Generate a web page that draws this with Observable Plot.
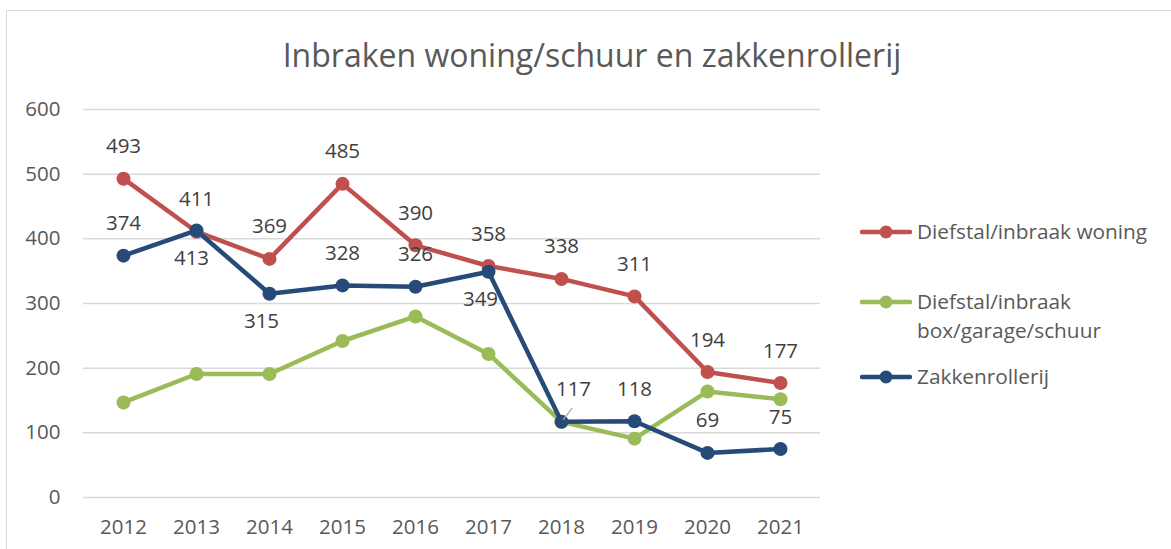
<!DOCTYPE html>
<html><head><meta charset="utf-8">
<script src="https://cdn.jsdelivr.net/npm/d3@7"></script>
<script src="https://cdn.jsdelivr.net/npm/@observablehq/plot@0.6"></script>
<style>
body{margin:0;background:#fff;font-family:"Open Sans",sans-serif;}
#wrap{position:relative;width:1171px;height:549px;overflow:hidden;background:#fff;}
#frame{position:absolute;left:6px;top:10px;width:1200px;height:600px;border:1px solid #d9d9d9;box-sizing:border-box;}
#title{position:absolute;left:0;width:1184px;top:34px;text-align:center;font-size:32px;color:#595959;line-height:42px;}
#chart{position:absolute;left:0;top:80px;}
.leg{position:absolute;left:860px;display:flex;align-items:flex-start;font-size:20.8px;color:#595959;line-height:29px;}
.leg svg{flex:none;margin-top:8px;margin-right:5px;}
</style>
</head><body>
<div id="wrap">
  <div id="frame"></div>
  <div id="title">Inbraken woning/schuur en zakkenrollerij</div>
  <div id="chart"></div>
</div>
<script>
const years = [2012, 2013, 2014, 2015, 2016, 2017, 2018, 2019, 2020, 2021];
const woning = [493, 411, 369, 485, 390, 358, 338, 311, 194, 177];
const schuur = [147, 191, 191, 242, 280, 222, 117, 91, 164, 152];
const zakken = [374, 413, 315, 328, 326, 349, 117, 118, 69, 75];
const seriesNames = ["Diefstal/inbraak woning", "Diefstal/inbraak box/garage/schuur", "Zakkenrollerij"];
const legendLabels = ["Diefstal/inbraak woning", "Diefstal/inbraak<br>box/garage/schuur", "Zakkenrollerij"];
const colors = ["#C0504D", "#9BBB59", "#264B78"];
const yTicks = [0, 100, 200, 300, 400, 500, 600];
const zakkenLabelPlace = ["above", "below", "below", "above", "above", "below", "above", "above", "above", "above"];
const zakkenLabelShift = [0, -5, -8, 0, 0, -8, 12, 0, 0, 0];

const allSeries = [woning, schuur, zakken];
const data = [];
allSeries.forEach((vals, s) => years.forEach((yr, i) => data.push({
  year: String(yr), value: vals[i], series: seriesNames[s], idx: i
})));
const bySeries = name => data.filter(d => d.series === name);

const marks = [Plot.ruleY(yTicks, {stroke: "#d9d9d9", strokeWidth: 1.5})];
seriesNames.forEach((name, s) => {
  marks.push(Plot.line(bySeries(name), {x: "year", y: "value", stroke: colors[s], strokeWidth: 4.5, strokeLinejoin: "round"}));
  marks.push(Plot.dot(bySeries(name), {x: "year", y: "value", r: 7, fill: colors[s], stroke: "none"}));
});
// small leader for the shifted 2018 label
const leaderShape = {draw(context, l) { context.moveTo(0, -3); context.lineTo(0, -l); }};
marks.push(Plot.vector(bySeries(seriesNames[2]).filter(d => zakkenLabelShift[d.idx] === 12), {x: "year", y: "value", length: 17, rotate: 38, anchor: "start", shape: leaderShape, stroke: "#a6a6a6", strokeWidth: 1.2}));
// labels for woning (above)
marks.push(Plot.text(bySeries(seriesNames[0]), {x: "year", y: "value", text: d => String(d.value), dy: -32, fontSize: 20.5, fill: "#404040"}));
// labels for zakkenrollerij
[-8, -5, 0, 12].forEach(shift => {
  ["above", "below"].forEach(place => {
    const sub = bySeries(seriesNames[2]).filter(d => zakkenLabelPlace[d.idx] === place && zakkenLabelShift[d.idx] === shift);
    if (sub.length) marks.push(Plot.text(sub, {x: "year", y: "value", text: d => String(d.value), dy: place === "above" ? -32 : 28, dx: shift, fontSize: 20.5, fill: "#404040"}));
  });
});

const chart = Plot.plot({
  width: 850,
  height: 469,
  marginLeft: 83,
  marginRight: 30,
  marginTop: 29,
  marginBottom: 52,
  style: {fontFamily: "'Open Sans', sans-serif", fontSize: "20.5px", color: "#595959", background: "transparent", overflow: "visible"},
  x: {type: "point", domain: years.map(String), padding: 0.5, tickSize: 0, tickPadding: 22, label: null},
  y: {domain: [0, 600], ticks: yTicks, tickSize: 0, tickPadding: 23, label: null},
  marks
});
document.getElementById("chart").appendChild(chart);

// legend
const legendTops = [217, 287, 362];
seriesNames.forEach((name, s) => {
  const div = document.createElement("div");
  div.className = "leg";
  div.style.top = legendTops[s] + "px";
  div.innerHTML = `<svg width="52" height="14"><line x1="2" x2="50" y1="7" y2="7" stroke="${colors[s]}" stroke-width="4.5" stroke-linecap="round"/><circle cx="26" cy="7" r="6.5" fill="${colors[s]}"/></svg><span>${legendLabels[s]}</span>`;
  document.getElementById("wrap").appendChild(div);
});
</script>
</body></html>
